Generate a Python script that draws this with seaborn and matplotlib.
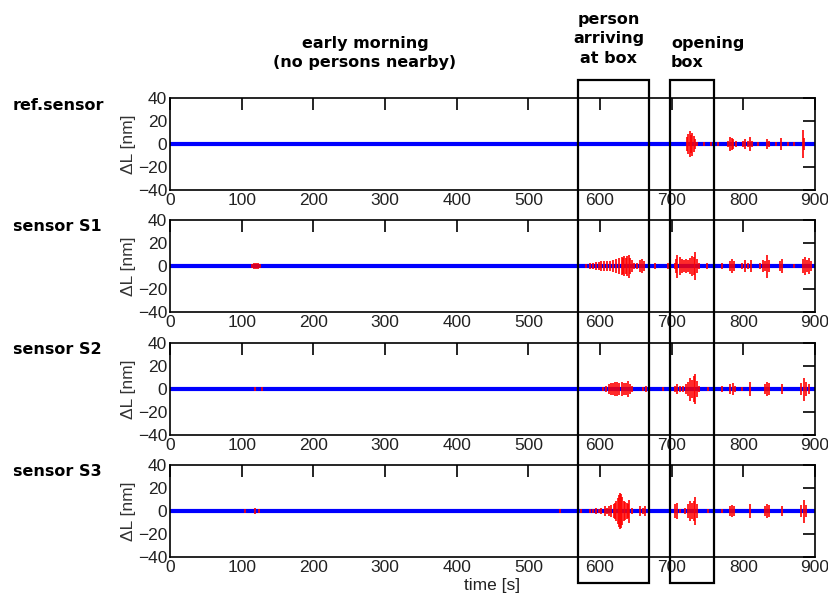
import numpy as np
import seaborn as sns
import matplotlib.pyplot as plt
from matplotlib.patches import Rectangle
from matplotlib.transforms import blended_transform_factory

# panel names (left side)
sensors = ['ref.sensor', 'sensor S1', 'sensor S2', 'sensor S3']

# quiet signal (blue trace) start/end time and level
quiet_t = [0, 900]
quiet_dl = [0, 0]

# red bursts: spike times [s] and half amplitudes [nm]
ref_t = [721, 723, 725, 727, 729, 731, 733, 736, 745, 755, 764, 779, 782, 784, 786, 790,
         800, 803, 806, 809, 812, 821, 833, 836, 845, 853, 862, 870, 883, 885]
ref_a = [6, 9, 11, 8, 10, 7, 4, 2, 1.5, 2, 2, 3, 6, 5, 4, 3,
         3, 4, 3, 6, 3, 2, 4, 3, 1.5, 5, 2, 2, 12, 5]

s1_t = [114, 117, 120, 123, 126,
        580, 586, 590, 594, 598, 602, 606, 610, 614, 618, 622, 626, 630, 632, 634, 636,
        638, 640, 642, 645, 648, 651, 656, 659, 662, 677, 695,
        704, 706, 708, 711, 714, 717, 720, 723, 726, 729, 731, 733, 735, 738,
        749, 770, 781, 784, 787, 798, 802, 806, 810, 823, 827, 830, 833, 836,
        851, 854, 870, 883, 886, 889, 892, 895]
s1_a = [2, 3, 3, 3, 2,
        1.5, 2.5, 3, 3.5, 3.5, 4, 4, 4, 4.5, 5, 6, 7, 8, 7, 9, 7,
        9, 10, 7, 5, 3, 3, 5, 6, 4, 3, 3,
        3, 6, 10, 8, 6, 5, 6, 5, 7, 9, 8, 12, 6, 3,
        3, 3, 4, 6, 4, 3, 5, 3, 5, 3, 5, 4, 10, 5,
        4, 6, 2, 6, 8, 5, 7, 4]

s2_t = [119, 128,
        604, 608, 612, 615, 618, 621, 624, 627, 630, 633, 636, 639, 642, 645,
        660, 664, 668, 688,
        705, 708, 712, 716, 720, 723, 726, 729, 731, 733, 735, 738,
        750, 770, 781, 785, 788, 798, 809, 830, 833, 836, 854, 881, 884, 887, 891]
s2_a = [2, 2,
        2, 3, 4, 5, 5, 6, 6, 5, 6, 5, 5, 7, 4, 3,
        2, 3, 2, 2,
        3, 4, 3, 3, 4, 6, 10, 8, 11, 13, 7, 3,
        2, 3, 4, 5, 3, 2, 6, 4, 6, 5, 4, 5, 10, 6, 4]

s3_t = [105, 119, 124,
        544, 574, 586, 590, 594, 598, 602, 607, 610, 613, 616,
        619, 621, 623, 625, 627, 628, 629, 631, 633, 635, 637, 639, 641, 645,
        656, 660, 663,
        705, 708, 712, 718, 723, 726, 729, 731, 733, 735,
        751, 770, 781, 784, 787, 809, 830, 833, 836, 854, 881, 884, 887]
s3_a = [1.5, 3, 1.5,
        1.5, 1.5, 2, 2, 3, 2, 3, 4, 3, 4, 5,
        6, 7, 9, 11, 14, 16, 15, 12, 9, 8, 7, 6, 10, 3,
        4, 3, 4,
        6, 7, 2, 3, 6, 9, 7, 9, 12, 6,
        2, 2, 4, 5, 4, 6, 4, 6, 5, 4, 5, 10, 5]

bursts = [(ref_t, ref_a), (s1_t, s1_a), (s2_t, s2_a), (s3_t, s3_a)]

# event windows [s] and their captions
events = [(569, 668), (698, 759)]
captions = ['early morning\n(no persons nearby)', 'person\narriving\nat box', 'opening\nbox']
caption_x = [272, 612, 699]

xticks = list(range(0, 901, 100))
yticks = [-40, -20, 0, 20, 40]

sns.set_style('white')
plt.rcParams['font.family'] = ['Liberation Sans', 'DejaVu Sans']
plt.rcParams['axes.linewidth'] = 1.2
plt.rcParams['text.color'] = 'black'

fig = plt.figure(figsize=(8.29, 6.03), dpi=100)
W, H = 829.0, 603.0
tops = [98, 220, 343, 465]
axes = []
for i, name in enumerate(sensors):
    top = tops[i]
    ax = fig.add_axes([170 / W, 1 - (top + 92) / H, 645 / W, 92 / H])
    sns.lineplot(x=quiet_t, y=quiet_dl, color='blue', lw=3, ax=ax)
    t, a = bursts[i]
    a = np.array(a)
    ax.vlines(t, -a, a, color='red', lw=1.2, zorder=3)
    ax.set_xlim(0, 900)
    ax.set_ylim(-40, 40)
    ax.set_xticks(xticks)
    ax.set_yticks(yticks)
    ax.tick_params(direction='in', top=True, right=True, length=8.5, width=1.2,
                   labelsize=12.5, pad=2, colors='black', labelcolor='#222222')
    ax.set_ylabel('ΔL [nm]', fontsize=12.5, color='#333333', labelpad=1)
    for s in ax.spines.values():
        s.set_color('black')
    fig.text(13 / W, 1 - (top + 7) / H, name, fontsize=11.5, fontweight='bold',
             family='DejaVu Sans', va='center', ha='left', color='black')
    axes.append(ax)

axes[-1].set_xlabel('time [s]', fontsize=12.5, color='#222222', labelpad=2)

# event boxes spanning all panels
tr = blended_transform_factory(axes[0].transData, fig.transFigure)
for x0, x1 in events:
    fig.add_artist(Rectangle((x0, 1 - 583 / H), x1 - x0, 503 / H, transform=tr,
                             fill=False, edgecolor='black', lw=1.6, clip_on=False))

fig.text(caption_x[0], 1 - 53 / H, captions[0], transform=tr, ha='center', va='center',
         fontsize=11.5, fontweight='bold', family='DejaVu Sans', linespacing=1.35, color='black')
fig.text(caption_x[1], 1 - 39 / H, captions[1], transform=tr, ha='center', va='center',
         fontsize=11.5, fontweight='bold', family='DejaVu Sans', linespacing=1.35, color='black')
fig.text(caption_x[2], 1 - 53 / H, captions[2], transform=tr, ha='left', va='center',
         fontsize=11.5, fontweight='bold', family='DejaVu Sans', linespacing=1.35, color='black')

fig.savefig('out.png', dpi=100)
